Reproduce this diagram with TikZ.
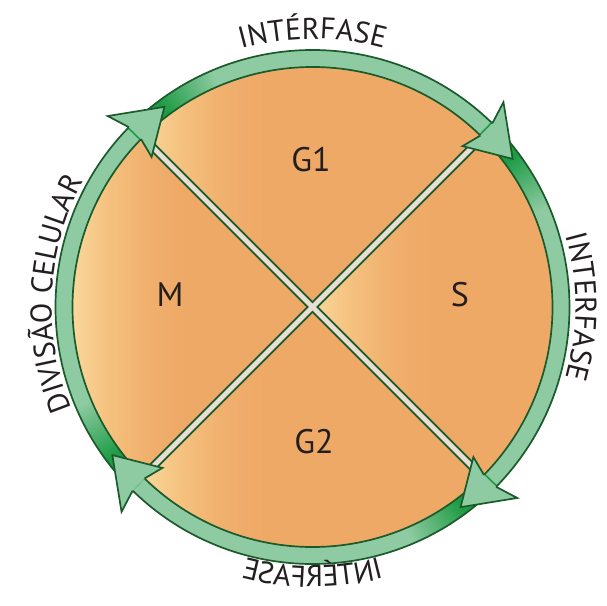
\documentclass[tikz,border=0pt]{standalone}
\usepackage{fontspec}
\setmainfont{PT Sans}
\usetikzlibrary{decorations.text}
\definecolor{ringlight}{HTML}{8FCBA2}
\definecolor{ringdark}{HTML}{1E9B45}
\definecolor{ringline}{HTML}{1B5A2B}
\definecolor{oLight}{HTML}{FAD89C}
\definecolor{oDark}{HTML}{EFA966}
\definecolor{oMidA}{HTML}{F5C280}
\definecolor{oMidB}{HTML}{F1B26F}
\definecolor{oMidC}{HTML}{EFAB69}
\definecolor{diagfill}{HTML}{E9DED3}
\definecolor{txt}{HTML}{231F20}
\pgfdeclarehorizontalshading{oease}{100bp}{color(0bp)=(oLight); color(25bp)=(oLight); color(40bp)=(oMidA); color(55bp)=(oMidB); color(66bp)=(oMidC); color(75bp)=(oDark); color(100bp)=(oDark)}
\newcommand\rIn{240pt}
\newcommand\rOut{257pt}
\newcommand\rimsize{\fontsize{30pt}{30pt}\selectfont}
\tikzset{
  lbl/.style={font=\fontsize{34pt}{34pt}\selectfont, text=txt, inner sep=0pt},
  ringedge/.style={draw=ringline, line width=1.7pt},
  headstyle/.style={fill=ringlight, draw=ringline, line width=1.7pt, line join=miter},
  diagout/.style={draw=ringline, line width=8.5pt},
  diagin/.style={draw=diagfill, line width=4.8pt},
  rimtext/.style={decorate, decoration={text along path, text align=center, text color=txt}},
  oshade/.style={shading=oease}
}
\newcommand\shaftarc[1]{%
  \pgfmathsetmacro\tlA{#1+90}%
  \pgfmathsetmacro\shS{#1+91}%
  \pgfmathsetmacro\shE{#1+0.7}%
  \fill[ringlight] (\shS:\rIn) arc[start angle=\shS, end angle=\shE, radius=\rIn] -- (\shE:\rOut) arc[start angle=\shE, end angle=\shS, radius=\rOut] -- cycle;
  \foreach \k in {0,...,46}{%
    \pgfmathsetmacro\angA{\shS-0.5*\k}%
    \pgfmathsetmacro\angB{\angA-0.6}%
    \pgfmathtruncatemacro\pcA{min(100,max(0,100*(\angA-(\tlA-22))/14))}%
    \fill[ringdark!\pcA!ringlight] (\angA:\rIn) arc[start angle=\angA, end angle=\angB, radius=\rIn] -- (\angB:\rOut) arc[start angle=\angB, end angle=\angA, radius=\rOut] -- cycle;
  }%
  \draw[ringedge] (\shS:\rIn) arc[start angle=\shS, end angle=\shE, radius=\rIn];
  \draw[ringedge] (\shS:\rOut) arc[start angle=\shS, end angle=\shE, radius=\rOut];
}
\newcommand\arrowhd[1]{%
  \pgfmathsetmacro\hdN{#1+0.6}%
  \pgfmathsetmacro\hdB{#1+2}%
  \pgfmathsetmacro\hdT{#1-8.5}%
  \filldraw[headstyle] (\hdN:\rIn) -- (\hdB:220pt) -- (\hdT:249pt) -- (\hdB:280pt) -- (\hdN:\rOut);
}
\begin{document}
\begin{tikzpicture}[x=1pt,y=1pt]
\useasboundingbox (-312.5,-298) rectangle (294.5,307);
% quadrants
\begin{scope}
  \clip (0,0) -- (45:241pt) arc[start angle=45,end angle=135,radius=241pt] -- cycle;
  \fill[oDark] (-245,0) rectangle (245,245);
  \shade[oshade] (-171,0) rectangle (-45,245);
\end{scope}
\begin{scope}
  \clip (0,0) -- (135:241pt) arc[start angle=135,end angle=225,radius=241pt] -- cycle;
  \fill[oDark] (-245,-245) rectangle (0,245);
  \shade[oshade] (-241,-171) rectangle (-125,171);
\end{scope}
\begin{scope}
  \clip (0,0) -- (-45:241pt) arc[start angle=-45,end angle=45,radius=241pt] -- cycle;
  \fill[oDark] (0,-245) rectangle (245,245);
  \shade[oshade] (0,-171) rectangle (120,171);
\end{scope}
\begin{scope}
  \clip (0,0) -- (225:241pt) arc[start angle=225,end angle=315,radius=241pt] -- cycle;
  \fill[oDark] (-245,-245) rectangle (245,0);
  \shade[oshade] (-171,-245) rectangle (-45,0);
\end{scope}
% diagonals
\coordinate (tl) at (135:236pt);
\coordinate (tr) at (45:236pt);
\coordinate (br) at (-45:236pt);
\coordinate (bl) at (-135:236pt);
\draw[diagout] (tl) -- (br);
\draw[diagout] (tr) -- (bl);
\draw[diagin] (tl) -- (br);
\draw[diagin] (tr) -- (bl);
% ring arcs
\shaftarc{135}
\shaftarc{45}
\shaftarc{-45}
\shaftarc{-135}
\arrowhd{135}
\arrowhd{45}
\arrowhd{-45}
\arrowhd{-135}
% labels
\node[lbl] (g1) at (-1.5,147) {G1};
\node[lbl] (m) at (-142.5,12) {M};
\node[lbl] (s) at (147.5,12) {S};
\node[lbl] (g2) at (1.5,-135) {G2};
% rim texts
\path[rimtext, decoration={text={|\rimsize|INTÉRFASE}}] (115:268pt) arc[start angle=115, end angle=65, radius=268pt];
\path[rimtext, decoration={text={|\rimsize|INTERFASE}}] (30:263pt) arc[start angle=30, end angle=-30, radius=263pt];
\path[rimtext, decoration={text={|\rimsize|DIVISÃO CELULAR}}] (212:261pt) arc[start angle=212, end angle=142, radius=261pt];
\begin{scope}[transform canvas={xscale=-1}]
\path[rimtext, decoration={text={|\rimsize|INTÉRFASE}}] (-115:280pt) arc[start angle=-115, end angle=-65, radius=280pt];
\end{scope}
\end{tikzpicture}
\end{document}
